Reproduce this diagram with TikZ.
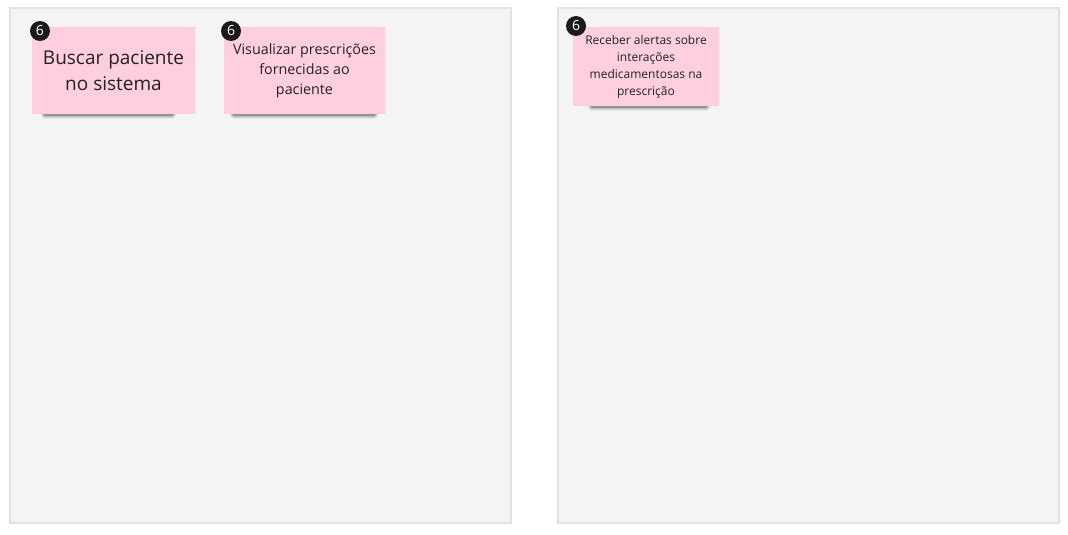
\documentclass[tikz,border=0pt]{standalone}
\usepackage{fontspec}
\setmainfont{Open Sans}
\usepackage{xcolor}
\definecolor{panelfill}{HTML}{F4F4F4}
\definecolor{panelline}{HTML}{E2E2E2}
\definecolor{notepink}{HTML}{FFCFE0}
\definecolor{badgeblack}{HTML}{1A1A1A}
\definecolor{textdark}{HTML}{222222}
\tikzset{
  panel/.style={fill=panelfill, draw=panelline, line width=1.5pt},
  sticky/.style={fill=notepink, draw=none, inner sep=0pt, align=center, text=textdark},
  badge/.style={circle, fill=badgeblack, text=white, inner sep=0pt, minimum size=20pt, font=\fontsize{14}{14}\selectfont},
  noteshadow/.style={line cap=round, draw=black}
}
\newcommand{\undershade}[3]{% x1, x2, y
  \foreach \w/\o in {9/0.05,7/0.08,5/0.12,3/0.2}
    \draw[noteshadow, line width=\w pt, opacity=\o] (#1,#3) -- (#2,#3);
}
\begin{document}
\begin{tikzpicture}[x=1pt,y=-1pt]
  \useasboundingbox (0,0) rectangle (1068,535);

  % Panels
  \draw[panel] (10,8) rectangle (511,523);
  \draw[panel] (558,8) rectangle (1059,523);

  % Shadows under the notes
  \undershade{45}{172}{114}
  \undershade{234}{374}{114}
  \undershade{592}{706}{106}

  % Note 1
  \node[sticky, minimum width=163pt, minimum height=87pt,
        font=\fontsize{19}{26}\selectfont] (note1) at (113.5,70.5)
        {Buscar paciente\\no sistema};
  \node[badge] (badge1) at (40,31) {6};

  % Note 2
  \node[sticky, minimum width=161pt, minimum height=87pt,
        font=\fontsize{14.3}{20}\selectfont] (note2) at (304.5,70.5)
        {Visualizar prescrições\\fornecidas ao\\paciente};
  \node[badge] (badge2) at (231,31) {6};

  % Note 3
  \node[sticky, minimum width=146pt, minimum height=79pt,
        font=\fontsize{12}{17}\selectfont] (note3) at (646,66.5)
        {Receber alertas sobre\\interações\\medicamentosas na\\prescrição};
  \node[badge] (badge3) at (576,26) {6};
\end{tikzpicture}
\end{document}
